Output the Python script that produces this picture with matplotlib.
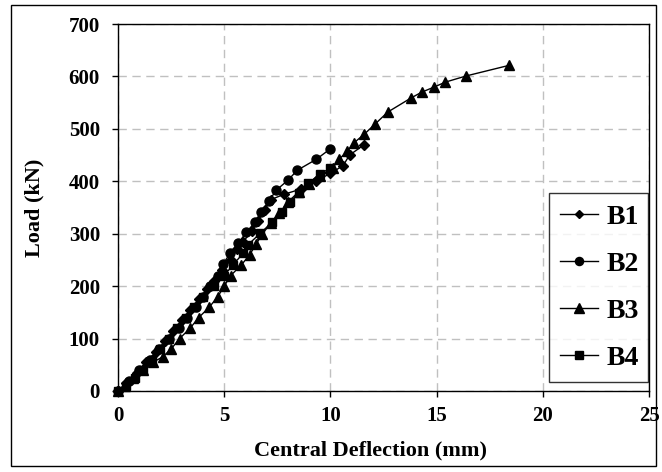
import matplotlib
matplotlib.use("Agg")
import matplotlib.pyplot as plt
from matplotlib.patches import Rectangle

plt.rcParams['font.family'] = ['Liberation Serif', 'DejaVu Serif']
plt.rcParams['font.weight'] = 'bold'

b1_x = [0, 0.4, 0.9, 1.3, 1.8, 2.2, 2.6, 3.0, 3.4, 3.8, 4.2, 4.5, 4.9, 5.3, 5.6, 5.9, 6.3, 6.6, 6.9, 7.2, 7.8, 8.6, 9.3, 10.0, 10.6, 10.9, 11.6]
b1_y = [0, 15, 35, 55, 75, 95, 115, 135, 155, 175, 195, 210, 230, 250, 270, 285, 305, 325, 345, 365, 375, 385, 400, 415, 430, 450, 470]

b2_x = [0, 0.5, 1.0, 1.5, 1.95, 2.4, 2.85, 3.25, 3.65, 4.0, 4.35, 4.7, 4.95, 5.28, 5.67, 6.04, 6.46, 6.75, 7.1, 7.45, 8.0, 8.44, 9.34, 10.0]
b2_y = [0, 20, 40, 60, 80, 100, 120, 140, 160, 180, 200, 220, 242, 263, 282, 303, 322, 341, 362, 383, 402, 421, 442, 462]

b3_x = [0, 0.35, 0.7, 1.2, 1.65, 2.1, 2.5, 2.9, 3.4, 3.8, 4.3, 4.7, 5.0, 5.3, 5.8, 6.2, 6.5, 6.8, 7.2, 7.6, 8.0, 8.5, 9.0, 9.5, 10.1, 10.4, 10.8, 11.1, 11.6, 12.1, 12.7, 13.8, 14.3, 14.9, 15.4, 16.4, 18.4]
b3_y = [0, 10, 25, 40, 55, 65, 80, 100, 120, 140, 160, 180, 200, 220, 240, 260, 280, 300, 320, 340, 360, 380, 395, 410, 425, 442, 457, 473, 490, 509, 532, 559, 570, 580, 589, 601, 621]

b4_x = [0, 0.4, 0.8, 1.2, 1.6, 2.0, 2.4, 2.8, 3.2, 3.6, 4.0, 4.5, 5.0, 5.4, 5.9, 6.1, 6.7, 7.26, 7.7, 8.1, 8.5, 8.96, 9.5, 10.0]
b4_y = [0, 10, 25, 40, 60, 80, 100, 120, 140, 160, 180, 200, 220, 240, 263, 278, 301, 322, 341, 360, 378, 396, 414, 425]

labels = ['B1', 'B2', 'B3', 'B4']
markers = ['D', 'o', '^', 's']
msizes = [5, 6.5, 7.5, 6]

x_ticks = [0, 5, 10, 15, 20, 25]
y_ticks = [0, 100, 200, 300, 400, 500, 600, 700]

fig = plt.figure(figsize=(6.62, 4.72), dpi=100)
ax = fig.add_axes([118/662, 1-391/472, 531/662, 367/472])

series = [(b1_x, b1_y), (b2_x, b2_y), (b3_x, b3_y), (b4_x, b4_y)]
for (xs, ys), lab, mk, ms in zip(series, labels, markers, msizes):
    ax.plot(xs, ys, color='black', lw=1, marker=mk, ms=ms, mfc='black', mec='black', label=lab, clip_on=False)

ax.set_xlim(0, 25)
ax.set_ylim(0, 700)
ax.set_xticks(x_ticks)
ax.set_yticks(y_ticks)
ax.tick_params(direction='out', length=4, width=1, labelsize=15)
ax.tick_params(axis='x', pad=7)
ax.tick_params(axis='y', pad=9)
for lbl in ax.get_xticklabels() + ax.get_yticklabels():
    lbl.set_fontweight('bold')
ax.grid(True, color='#c0c0c0', linestyle=(0, (6, 4)), lw=1)
ax.set_axisbelow(True)
for s in ax.spines.values():
    s.set_linewidth(1)
ax.set_xlabel('Central Deflection (mm)', fontsize=16, fontweight='bold')
ax.set_ylabel('Load (kN)', fontsize=16, fontweight='bold')
ax.xaxis.set_label_coords(0.475, -0.136)
ax.yaxis.set_label_coords(-0.139, 0.5)

leg = ax.legend(loc='center', bbox_to_anchor=(0.812, 0.0136, 0.186, 0.536), mode='expand',
                prop={'size': 20, 'weight': 'bold'}, frameon=True, fancybox=False,
                labelspacing=0.78, borderpad=0.4, handlelength=1.35, handletextpad=0.3,
                markerscale=0.9, borderaxespad=0)
leg.get_frame().set_edgecolor('black')
leg.get_frame().set_linewidth(1)

fig.patches.append(Rectangle((11/662, 1-466/472), 645/662, 461/472, transform=fig.transFigure,
                             fill=False, edgecolor='black', lw=1))

fig.savefig('out.png', dpi=100)
